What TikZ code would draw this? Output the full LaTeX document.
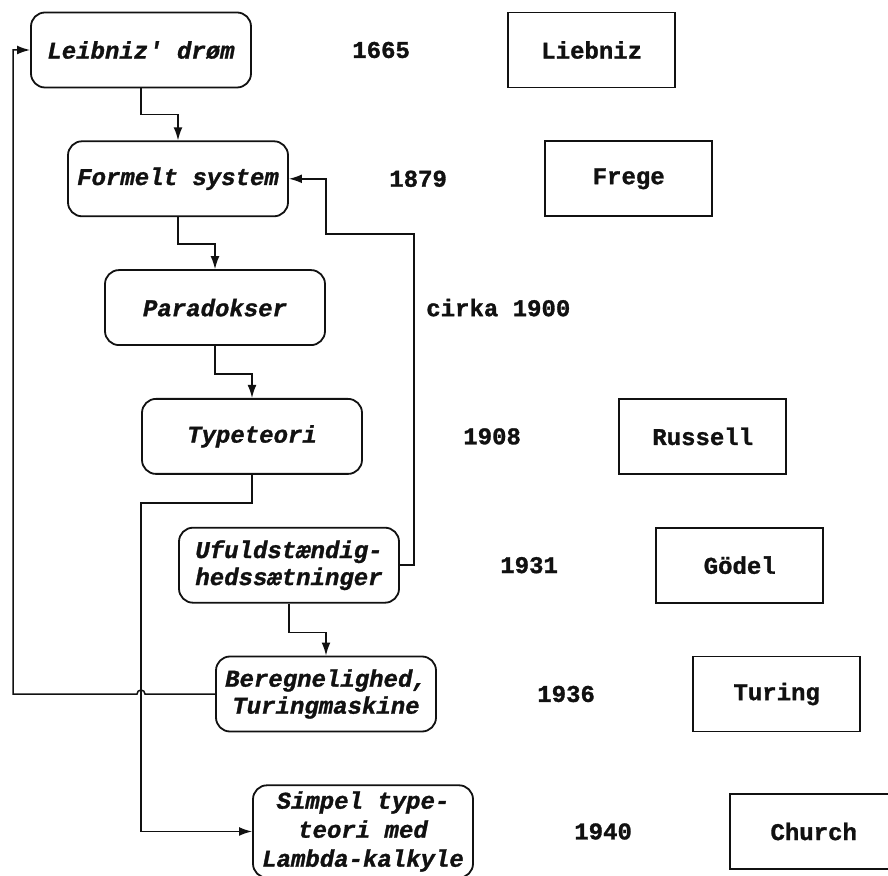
\documentclass[tikz,border=0pt]{standalone}
\usepackage{fontspec}
\setmonofont[BoldFeatures={FakeBold=1.2},BoldItalicFeatures={FakeBold=1.2}]{Liberation Mono}
\usetikzlibrary{arrows.meta,positioning,calc}
\definecolor{ink}{HTML}{111111}

\begin{document}
\begin{tikzpicture}[
  >={Latex[length=6.5pt,width=4.4pt]},
  font=\ttfamily\bfseries\fontsize{12}{13.5}\selectfont,
  stage/.style={draw=ink, line width=0.9pt, rounded corners=7pt, align=center, text=ink, minimum width=110pt, minimum height=37.5pt, inner sep=3pt, font=\ttfamily\bfseries\itshape\fontsize{12}{13.5}\selectfont},
  yr/.style={text=ink, inner sep=0pt},
  person/.style={draw=ink, line width=0.9pt, text=ink, minimum width=83.5pt, minimum height=37.5pt, inner sep=3pt},
  link/.style={->, draw=ink, line width=0.75pt},
]
\useasboundingbox[fill=white] (0,0) rectangle (444pt,-438pt);
% ideas column, stepping down to the right
\node[stage] (leib) at (70.5pt,-25pt) {Leibniz' drøm};
\node[stage, below=26pt of leib, xshift=18.5pt] (fs) {Formelt system};
\node[stage, below=26pt of fs, xshift=18.5pt] (par) {Paradokser};
\node[stage, below=26pt of par, xshift=18.5pt] (tt) {Typeteori};
\node[stage, below=26pt of tt, xshift=18.5pt] (uf) {Ufuldstændig-\\hedssætninger};
\node[stage, below=26pt of uf, xshift=18.5pt] (ber) {Beregnelighed,\\Turingmaskine};
\node[stage, below=26pt of ber, xshift=18.5pt, font=\ttfamily\bfseries\itshape\fontsize{12}{14.5}\selectfont] (stl) {Simpel type-\\teori med\\Lambda-kalkyle};
% years and people
\node[yr, right=50pt of leib] (y1665) {1665};
\node[person, right=48.5pt of y1665] (liebniz) {Liebniz};
\node[yr, right=50pt of fs] (y1879) {1879};
\node[person, right=48.5pt of y1879] (frege) {Frege};
\node[yr, right=50pt of par] (y1900) {cirka 1900};
\node[yr, right=50pt of tt] (y1908) {1908};
\node[person, right=48.5pt of y1908] (russell) {Russell};
\node[yr, right=50pt of uf] (y1931) {1931};
\node[person, right=48.5pt of y1931] (goedel) {Gödel};
\node[yr, right=50pt of ber] (y1936) {1936};
\node[person, right=48.5pt of y1936] (turing) {Turing};
\node[yr, right=50pt of stl] (y1940) {1940};
\node[person, right=48.5pt of y1940] (church) {Church};
% main line
\draw[link] (leib.south) -- ++(0,-13pt) -| (fs.north);
\draw[link] (fs.south) -- ++(0,-13.5pt) -| (par.north);
\draw[link] (par.south) -- ++(0,-14pt) -| (tt.north);
\draw[link] (uf.south) -- ++(0,-14.5pt) -| (ber.north);
\draw[link] (tt.south) -- ++(0,-14pt) -| (leib.south |- stl.west) -- (stl.west);
% back edges
\draw[link] (uf.east) -- ++(7pt,0) |- ($(fs.south -| par.east)+(0,-8.5pt)$) |- (fs.east);
\coordinate (rail) at (6.5pt,-25pt);
\draw[link] (ber.west) -- ($(leib.south |- ber.west)+(2pt,0)$) arc[start angle=0, end angle=180, radius=2pt] -- (rail |- ber.west) |- (leib.west);
\end{tikzpicture}
\end{document}
